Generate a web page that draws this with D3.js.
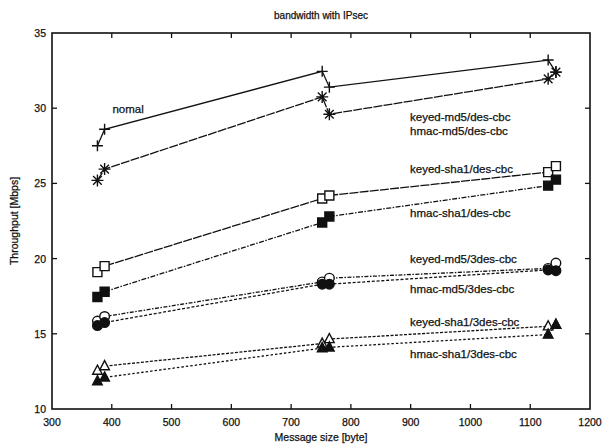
<!DOCTYPE html>
<meta charset="utf-8">
<style>
body { margin: 0; background: #fff; }
text { font-family: "Liberation Sans", Arial, sans-serif; fill: #111; stroke: #111; stroke-width: 0.25; }
</style>
<body>
<svg width="609" height="448"></svg>
<script src="https://cdn.jsdelivr.net/npm/d3@7"></script>
<script>
// message sizes [byte], two runs per size
const sizes = [376, 388, 752, 764, 1130, 1143];
// throughput [Mbps]
const normal       = [27.5, 28.6, 32.45, 31.4, 33.2, 32.4];
const md5Des       = [25.2, 25.95, 30.75, 29.6, 31.95, 32.4];
const keyedSha1Des = [19.1, 19.5, 24.0, 24.2, 25.75, 26.15];
const hmacSha1Des  = [17.45, 17.8, 22.4, 22.8, 24.85, 25.25];
const keyedMd53Des = [15.85, 16.15, 18.45, 18.7, 19.35, 19.7];
const hmacMd53Des  = [15.55, 15.75, 18.3, 18.3, 19.25, 19.2];
const keyedSha13Des = [12.55, 12.85, 14.35, 14.65, 15.5, 15.6];
const hmacSha13Des  = [11.85, 12.1, 14.05, 14.1, 14.95, 15.6];

const xTicks = [300, 400, 500, 600, 700, 800, 900, 1000, 1100, 1200];
const yTicks = [10, 15, 20, 25, 30, 35];

const labelNames = ["nomal", "keyed-md5/des-cbc", "hmac-md5/des-cbc", "keyed-sha1/des-cbc",
  "hmac-sha1/des-cbc", "keyed-md5/3des-cbc", "hmac-md5/3des-cbc", "keyed-sha1/3des-cbc", "hmac-sha1/3des-cbc"];

const svg = d3.select("svg");
const pl = 52, pr = 590, pt = 33, pb = 409;

const x = d3.scaleLinear().domain([300, 1200]).range([pl, pr]);
const y = d3.scaleLinear().domain([10, 35]).range([pb, pt]);

// marker shapes
function plus(s) { return `M${-s},0H${s}M0,${-s}V${s}`; }
function star(s) { const d = s * 0.72; return plus(s) + `M${-d},${-d}L${d},${d}M${-d},${d}L${d},${-d}`; }
function square(s) { return `M${-s},${-s}H${s}V${s}H${-s}Z`; }
function circle(s) { return `M${-s},0A${s},${s} 0 1,0 ${s},0A${s},${s} 0 1,0 ${-s},0Z`; }
function tri(s) { return `M0,${-s * 1.15}L${s},${s * 0.75}L${-s},${s * 0.75}Z`; }

const series = [
  { v: normal, shape: plus, size: 5.5, fill: "none", dash: null },
  { v: md5Des, shape: star, size: 6, fill: "none", dash: "9,1.2" },
  { v: keyedSha1Des, shape: square, size: 4.5, fill: "#fff", dash: "9,1.2" },
  { v: hmacSha1Des, shape: square, size: 4.5, fill: "#111", dash: "5,1.5,1.5,1.5" },
  { v: keyedMd53Des, shape: circle, size: 4.8, fill: "#fff", dash: "4,1.5,1.5,1.5" },
  { v: hmacMd53Des, shape: circle, size: 4.8, fill: "#111", dash: "3,1.8" },
  { v: keyedSha13Des, shape: tri, size: 4.8, fill: "#fff", dash: "3,1.5" },
  { v: hmacSha13Des, shape: tri, size: 4.8, fill: "#111", dash: "2.5,2" }
];

const line = d3.line().x((d, i) => x(sizes[i])).y(d => y(d));

series.forEach(s => {
  svg.append("path")
    .attr("d", line(s.v))
    .attr("fill", "none")
    .attr("stroke", "#111")
    .attr("stroke-width", 1.3)
    .attr("stroke-dasharray", s.dash);
});
series.forEach(s => {
  svg.append("g").selectAll("path")
    .data(s.v)
    .join("path")
      .attr("transform", (d, i) => `translate(${x(sizes[i])},${y(d)})`)
      .attr("d", s.shape(s.size))
      .attr("fill", s.fill)
      .attr("stroke", "#111")
      .attr("stroke-width", 1.4);
});

// frame and ticks
svg.append("rect")
  .attr("x", pl).attr("y", pt)
  .attr("width", pr - pl).attr("height", pb - pt)
  .attr("fill", "none").attr("stroke", "#111").attr("stroke-width", 1.6);

const tl = 5;
const tickG = svg.append("g").attr("stroke", "#111").attr("stroke-width", 1.3);
xTicks.slice(1, -1).forEach(t => {
  tickG.append("line").attr("x1", x(t)).attr("x2", x(t)).attr("y1", pb).attr("y2", pb - tl);
  tickG.append("line").attr("x1", x(t)).attr("x2", x(t)).attr("y1", pt).attr("y2", pt + tl);
});
yTicks.slice(1, -1).forEach(t => {
  tickG.append("line").attr("x1", pl).attr("x2", pl + tl).attr("y1", y(t)).attr("y2", y(t));
  tickG.append("line").attr("x1", pr).attr("x2", pr - tl).attr("y1", y(t)).attr("y2", y(t));
});

svg.append("g").selectAll("text")
  .data(xTicks)
  .join("text")
    .attr("x", d => x(d))
    .attr("y", pb + 17)
    .attr("text-anchor", "middle")
    .attr("font-size", 10.5)
    .text(d => d);

svg.append("g").selectAll("text")
  .data(yTicks)
  .join("text")
    .attr("x", pl - 6)
    .attr("y", d => y(d) + 4)
    .attr("text-anchor", "end")
    .attr("font-size", 10.5)
    .text(d => d);

svg.append("text")
  .attr("x", (pl + pr) / 2).attr("y", 19)
  .attr("text-anchor", "middle").attr("font-size", 10)
  .text("bandwidth with IPsec");

svg.append("text")
  .attr("x", (pl + pr) / 2).attr("y", 441)
  .attr("text-anchor", "middle").attr("font-size", 10.5)
  .text("Message size [byte]");

svg.append("text")
  .attr("transform", `translate(18,${(pt + pb) / 2}) rotate(-90)`)
  .attr("text-anchor", "middle").attr("font-size", 10.5)
  .text("Throughput [Mbps]");

// curve labels, placed in data coordinates
const labelAt = [[401, 29.7], [899, 29.15], [899, 28.22], [899, 25.69], [899, 22.75],
  [899, 19.69], [899, 17.69], [899, 15.49], [899, 13.42]];
svg.append("g").selectAll("text")
  .data(labelNames)
  .join("text")
    .attr("x", (d, i) => x(labelAt[i][0]))
    .attr("y", (d, i) => y(labelAt[i][1]))
    .attr("font-size", 11.5)
    .text(d => d);
</script>
</body>
